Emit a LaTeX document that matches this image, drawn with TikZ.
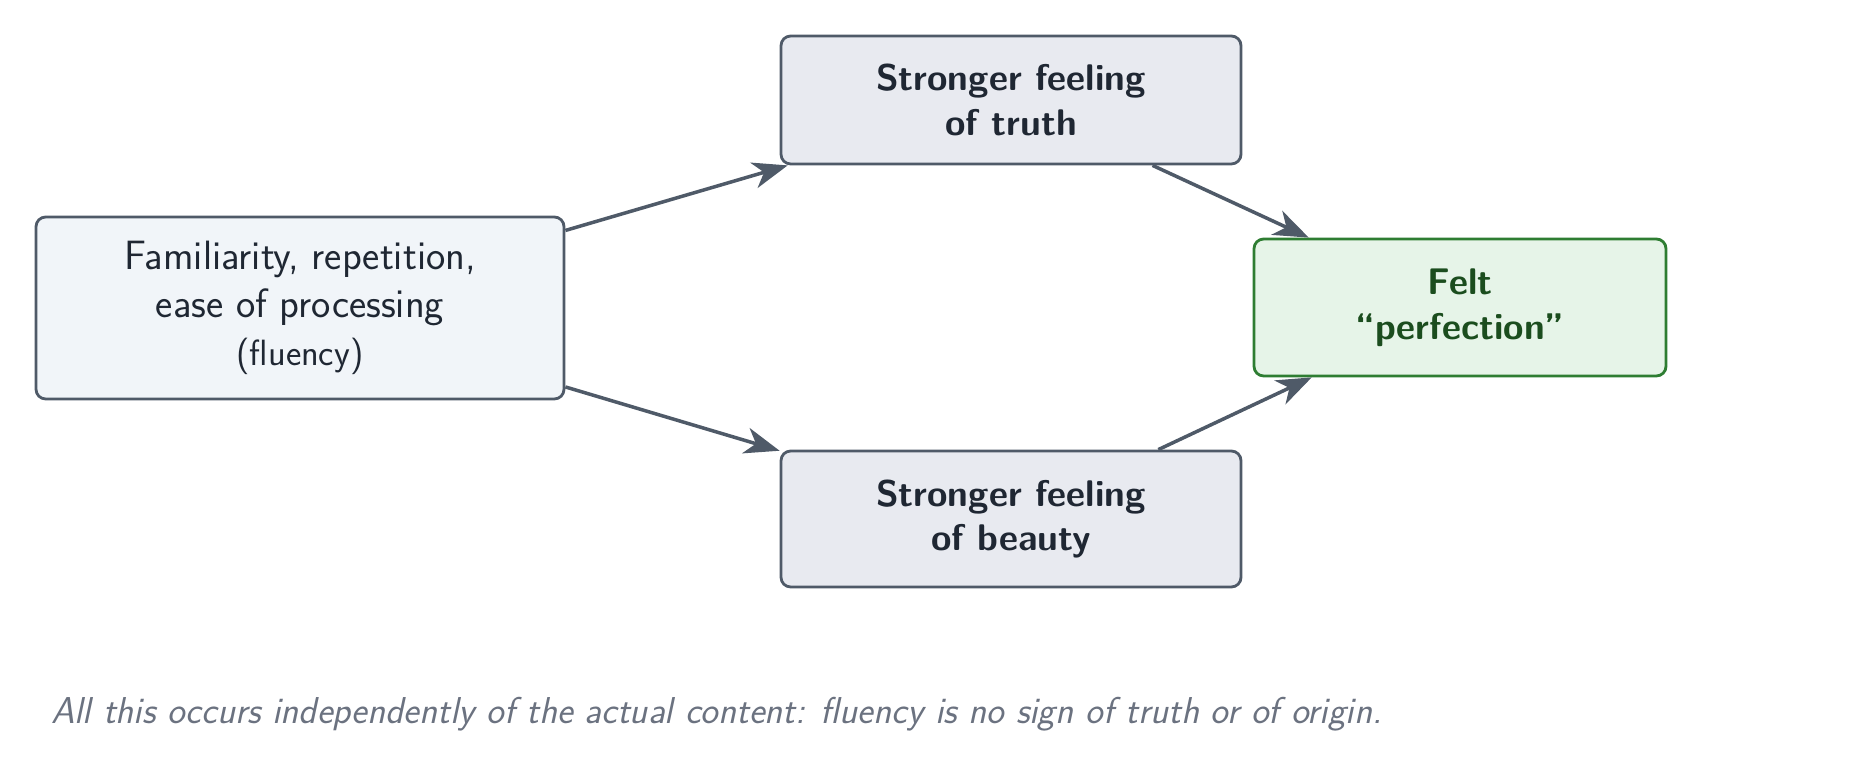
\documentclass[tikz,border=0pt]{standalone}
\usepackage{xcolor}
\usetikzlibrary{arrows.meta}

\definecolor{edgegray}{HTML}{4F5A68}
\definecolor{inkdark}{HTML}{1F2733}
\definecolor{srcfill}{HTML}{F1F5F9}
\definecolor{midfill}{HTML}{E8EAF0}
\definecolor{feltfill}{HTML}{E6F4E8}
\definecolor{feltline}{HTML}{2E7D32}
\definecolor{feltink}{HTML}{1B4D1E}
\definecolor{notegray}{HTML}{6B7280}

\tikzset{
    basebox/.style={draw=edgegray, line width=1.6pt, rounded corners=5.5pt,
        align=center, text=inkdark, inner sep=0pt,
        font=\sffamily\fontsize{23.3}{27.5}\selectfont},
    srcbox/.style={basebox, fill=srcfill, minimum width=10.56cm, minimum height=3.64cm},
    midbox/.style={basebox, fill=midfill, minimum width=9.2cm,
        font=\sffamily\bfseries\fontsize{21.1}{25.5}\selectfont},
    feltbox/.style={basebox, draw=feltline, fill=feltfill, text=feltink,
        minimum width=8.24cm, minimum height=2.74cm,
        font=\sffamily\bfseries\fontsize{21.1}{25.5}\selectfont},
    flow/.style={draw=edgegray, line width=2pt, -{Stealth[length=20pt, width=15pt, inset=6pt]}}
}

\begin{document}
\begin{tikzpicture}
        \useasboundingbox (0,0) rectangle (37.34,-15.54);

        \node[srcbox] (fluency) at (6.0,-6.16) {Familiarity, repetition,\\ease of processing\\{\fontsize{20.8}{27.5}\selectfont(fluency)}};
        \node[midbox, minimum height=2.56cm] (truth) at (20.22,-2.0) {Stronger feeling\\of truth};
        \node[midbox, minimum height=2.72cm] (beauty) at (20.22,-10.38) {Stronger feeling\\of beauty};
        \node[feltbox] (felt) at (29.2,-6.15) {Felt\\``perfection''};

        \draw[flow] (fluency) -- (truth);
        \draw[flow] (fluency) -- (beauty);
        \draw[flow] (truth) -- (felt);
        \draw[flow] (beauty) -- (felt);

        \node[anchor=west, text=notegray, font=\sffamily\itshape\fontsize{21.3}{25}\selectfont] (note) at (0.9,-14.28) {All this occurs independently of the actual content: fluency is no sign of truth or of origin.};
    \end{tikzpicture}
\end{document}
